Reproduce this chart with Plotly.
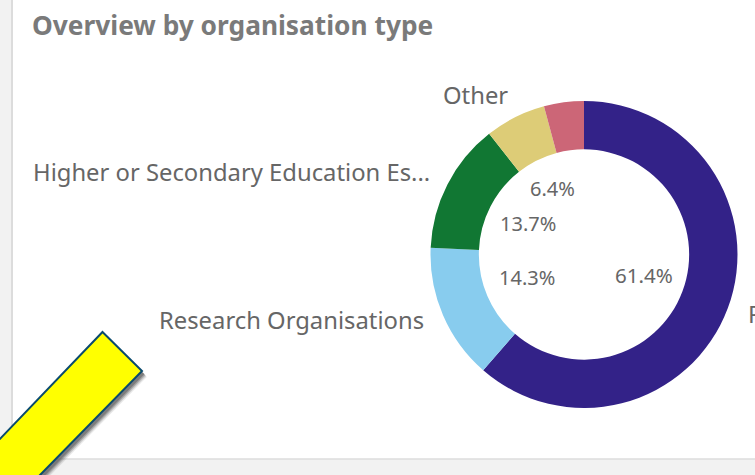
import plotly.graph_objects as go

categories = ["P", "Research Organisations",
              "Higher or Secondary Education Es...", "Other", ""]
shares = [61.4, 14.3, 13.7, 6.4, 4.2]
colors = ["#332288", "#88CCEE", "#117733", "#DDCC77", "#CC6677"]
title_text = "Overview by organisation type"

W, H = 755, 475
FONT = "Noto Sans"
GREY = "#666666"

def px(x): return x / W
def py(y): return 1 - y / H

cx, cy, R = 584, 254.5, 153.5

fig = go.Figure(go.Pie(
    labels=categories, values=shares, hole=0.685, sort=False,
    direction="clockwise", rotation=0, textinfo="none", showlegend=False,
    marker=dict(colors=colors, line=dict(width=0)),
    domain=dict(x=[px(cx - R), px(cx + R)], y=[py(cy + R), py(cy - R)]),
))

def poly(points):
    return "M " + " L ".join(f"{px(x):.5f},{py(y):.5f}" for x, y in points) + " Z"

arrow = [(102.5, 332), (142, 371), (10, 505.6), (-40, 480.6)]
shapes = [
    dict(type="rect", xref="paper", yref="paper", x0=0, x1=px(11), y0=0, y1=1,
         fillcolor="#f2f2f2", line_width=0, layer="below"),
    dict(type="rect", xref="paper", yref="paper", x0=0, x1=1, y0=0, y1=py(459),
         fillcolor="#f2f2f2", line_width=0, layer="below"),
    dict(type="line", xref="paper", yref="paper", x0=px(12), x1=px(12), y0=py(459), y1=1,
         line=dict(color="#dcdcdc", width=2), layer="below"),
    dict(type="line", xref="paper", yref="paper", x0=px(12), x1=1, y0=py(459), y1=py(459),
         line=dict(color="#dcdcdc", width=1.5), layer="below"),
]
for off, op in [(6, 0.12), (5, 0.2), (4, 0.3), (3, 0.4)]:
    shapes.append(dict(type="path", xref="paper", yref="paper",
                       path=poly([(x + off * 0.8, y + off) for x, y in arrow]),
                       fillcolor=f"rgba(70,70,70,{op})", line_width=0))
shapes.append(dict(type="path", xref="paper", yref="paper", path=poly(arrow),
                   fillcolor="#ffff00", line=dict(color="#0a4a6e", width=2)))

def note(text, x, y, anchor, size=23.8, color=GREY, bold=False):
    return dict(text=f"<b>{text}</b>" if bold else text, x=px(x), y=py(y),
                xref="paper", yref="paper", xanchor=anchor, yanchor="middle",
                showarrow=False, font=dict(family=FONT, size=size, color=color))

annotations = [
    note(title_text, 29.5, 25.5, "left", size=26.3, color="#7a7a7a", bold=True),
    note(categories[3], 440.5, 95, "left"),
    note(categories[2], 30.5, 172, "left"),
    note(categories[1], 426, 320, "right"),
    note(categories[0], 745.5, 314, "left"),
    note(f"{shares[3]}%", 552, 188.5, "center", size=20),
    note(f"{shares[2]}%", 528, 223.5, "center", size=20),
    note(f"{shares[1]}%", 527, 277.5, "center", size=20),
    note(f"{shares[0]}%", 644, 274.5, "center", size=20.5),
]

fig.update_layout(width=W, height=H, margin=dict(l=0, r=0, t=0, b=0),
                  paper_bgcolor="white", plot_bgcolor="white",
                  shapes=shapes, annotations=annotations)
fig.write_html("out.html", config=dict(displayModeBar=False),
               post_script="document.body.style.margin='0';document.body.style.overflow='hidden';")
